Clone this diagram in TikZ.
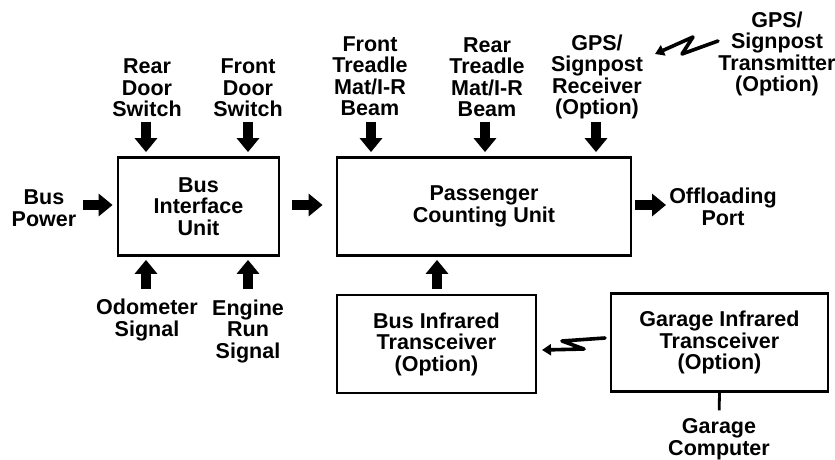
\documentclass[tikz,border=0pt]{standalone}
\usepackage{fontspec}
\setmainfont{Liberation Sans}
\usetikzlibrary{arrows.meta}
\begin{document}
\begin{tikzpicture}[x=1pt,y=-1pt,
  every node/.style={font=\fontsize{21.5}{21.5}\selectfont\bfseries, align=center, inner sep=0pt},
  blk/.style={draw, line width=2.8pt, minimum height=98pt},
  lbl/.style={},
  barrow/.style={line width=10pt, -{Triangle[width=22pt,length=14pt]}},
  zig/.style={line width=3.6pt, line join=round, line cap=round, {Triangle[width=11pt,length=9pt]}-},
  wire/.style={line width=2.8pt}
]
\useasboundingbox (0,0) rectangle (835,460);
% boxes
\node[blk, minimum width=161pt] (biu) at (198.5,206.5) {Bus\\Interface\\Unit};
\node[blk, minimum width=294pt] (pcu) at (484,206.5) {Passenger\\Counting Unit};
\node[blk, minimum width=199pt] (bit) at (436.5,344) {Bus Infrared\\Transceiver\\(Option)};
\node[blk, minimum width=217pt] (git) at (719.5,342.5) {Garage Infrared\\Transceiver\\(Option)};
% labels
\node[lbl] (rds) at (147,88) {Rear\\Door\\Switch};
\node[lbl] (fds) at (248,88) {Front\\Door\\Switch};
\node[lbl] (ftr) at (370,76) {Front\\Treadle\\Mat/I-R\\Beam};
\node[lbl] (rtr) at (487,77) {Rear\\Treadle\\Mat/I-R\\Beam};
\node[lbl] (gpsr) at (597,77) {GPS/\\Signpost\\Receiver\\(Option)};
\node[lbl] (gpst) at (777,54) {GPS/\\Signpost\\Transmitter\\(Option)};
\node[lbl] (bp) at (44,208) {Bus\\Power};
\node[lbl] (off) at (723,207) {Offloading\\Port};
\node[lbl] (odo) at (147,320) {Odometer\\Signal};
\node[lbl] (eng) at (248,331) {Engine\\Run\\Signal};
\node[lbl] (gc) at (719,439) {Garage\\Computer};
% block arrows from above
\coordinate (a1) at (146,122);
\coordinate (a2) at (248,122);
\coordinate (a3) at (371,122);
\coordinate (a4) at (485,122);
\coordinate (a5) at (596,122);
\draw[barrow, shorten >=4pt] (a1) -- (a1 |- biu.north);
\draw[barrow, shorten >=4pt] (a2) -- (a2 |- biu.north);
\draw[barrow, shorten >=4pt] (a3) -- (a3 |- pcu.north);
\draw[barrow, shorten >=4pt] (a4) -- (a4 |- pcu.north);
\draw[barrow, shorten >=4pt] (a5) -- (a5 |- pcu.north);
% horizontal arrows
\coordinate (h1) at (83,205);
\coordinate (h2) at (292,205);
\coordinate (h3) at (635,205);
\coordinate (h3e) at (666,205);
\draw[barrow, shorten >=4pt] (h1) -- (h1 -| biu.west);
\draw[barrow, shorten >=13pt] (h2) -- (h2 -| pcu.west);
\draw[barrow] (h3) -- (h3e);
% block arrows from below
\coordinate (b1) at (146,289);
\coordinate (b2) at (248,289);
\coordinate (b3) at (437,289);
\draw[barrow, shorten >=3pt] (b1) -- (b1 |- biu.south);
\draw[barrow, shorten >=3pt] (b2) -- (b2 |- biu.south);
\draw[barrow, shorten >=3pt] (b3) -- (b3 |- pcu.south);
% garage computer wire
\draw[wire, shorten >=8pt] (git.south) -- (gc.north);
% wireless links
\coordinate (z1) at (718,41);
\coordinate (z2) at (682,54);
\coordinate (z3) at (693,37);
\coordinate (z4) at (655,54);
\draw[zig] (z4) -- (z3) -- (z2) -- (z1);
\coordinate (w1) at (605,338);
\coordinate (w2) at (562,341);
\coordinate (w3) at (584,349);
\coordinate (w4) at (542,350);
\draw[zig] (w4) -- (w3) -- (w2) -- (w1);
\end{tikzpicture}
\end{document}
